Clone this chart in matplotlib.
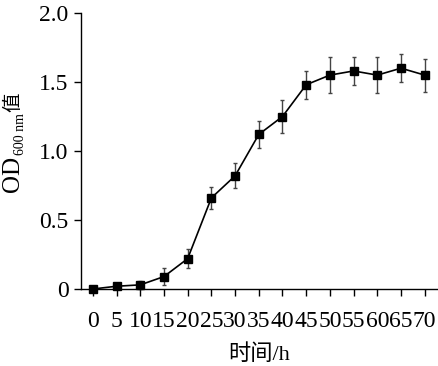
import matplotlib
matplotlib.use("Agg")
import matplotlib.pyplot as plt
from matplotlib.transforms import Affine2D

plt.rcParams['font.family'] = ['Liberation Serif', 'Noto Sans CJK SC']

time_h = [0, 5, 10, 15, 20, 25, 30, 35, 40, 45, 50, 55, 60, 65, 70]
od600 = [0.00, 0.02, 0.03, 0.09, 0.22, 0.66, 0.82, 1.12, 1.25, 1.48, 1.55, 1.58, 1.55, 1.60, 1.55]
od_err = [0.01, 0.02, 0.03, 0.06, 0.07, 0.08, 0.09, 0.10, 0.12, 0.10, 0.13, 0.10, 0.13, 0.10, 0.12]
y_ticks = [0, 0.5, 1.0, 1.5, 2.0]
y_ticklabels = ['0', '0.5', '1.0', '1.5', '2.0']

fig = plt.figure(figsize=(4.38, 3.66), dpi=100)
ax = fig.add_axes([81 / 438, 1 - 289 / 366, 1 - 81 / 438, (289 - 13) / 366])

ax.errorbar(time_h, od600, yerr=od_err, color='black', ecolor='#444444',
            elinewidth=1.0, capsize=1.6, capthick=1.0, lw=1.2,
            marker='s', markersize=5.5, clip_on=False, zorder=3)

ax.set_xlim(-2.5, 72.8)
ax.set_ylim(0, 2.0)
ax.set_xticks(time_h)
ax.set_xticklabels([str(t) for t in time_h])
ax.set_yticks(y_ticks)
ax.set_yticklabels(y_ticklabels)
ax.tick_params(axis='both', direction='out', length=5, width=1, labelsize=17, pad=4)
ax.tick_params(axis='x', pad=11)
for side in ['top', 'right']:
    ax.spines[side].set_visible(False)
for side in ['left', 'bottom']:
    ax.spines[side].set_linewidth(1.0)

ax.set_xlabel('时间/h', fontsize=16, labelpad=9)

# y label: OD + subscript 600 nm + 值, chained from bottom to top
renderer = fig.canvas.get_renderer()
x0, y0 = 13, 366 - 192
t1 = fig.text(x0, y0, 'OD', fontsize=18, rotation=90, ha='center', va='bottom',
              transform=Affine2D())
bb = t1.get_window_extent(renderer)
t2 = fig.text(x0 + 8, bb.y1 + 1, '600 nm', fontsize=10, rotation=90, ha='center',
              va='bottom', transform=Affine2D())
bb2 = t2.get_window_extent(renderer)
fig.text(x0, bb2.y1 + 1, '值', fontsize=14, rotation=90, ha='center', va='bottom',
         transform=Affine2D())

fig.savefig('out.png', dpi=100)
